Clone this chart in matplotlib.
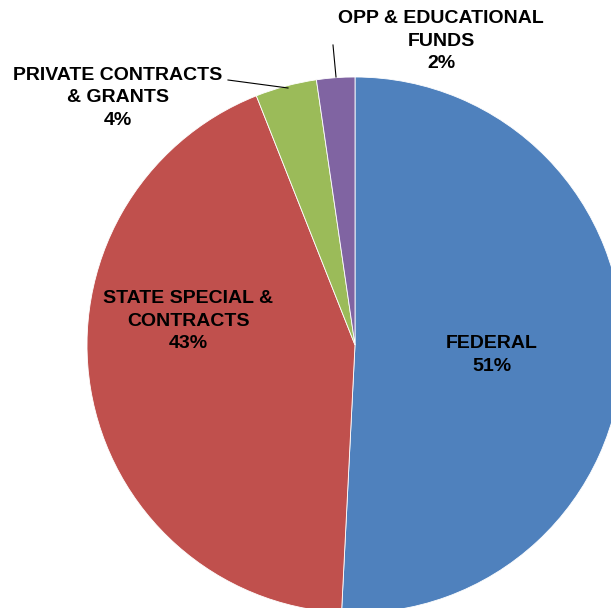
import matplotlib.pyplot as plt

# Datos del grafico
labels = ['FEDERAL', 'STATE SPECIAL &\nCONTRACTS', 'PRIVATE CONTRACTS\n& GRANTS', 'OPP & EDUCATIONAL\nFUNDS']
values = [50.8, 43.2, 3.7, 2.3]
pct_text = ['51%', '43%', '4%', '2%']
colors = ['#4F81BD', '#C0504D', '#9BBB59', '#8064A2']

plt.rcParams['font.family'] = ['Liberation Sans', 'DejaVu Sans']

fig = plt.figure(figsize=(6.11, 6.08), dpi=100)
ax = fig.add_axes([0, 0, 1, 1])

# Centro y radio en pixeles (el pie queda recortado abajo y a la derecha)
cx, cy, r = 355, 608 - 345, 268
wedges, _ = ax.pie(values, colors=colors, startangle=90, counterclock=False,
                   center=(cx, cy), radius=r, frame=True,
                   wedgeprops=dict(edgecolor='white', linewidth=0.6))
ax.set_xlim(0, 611)
ax.set_ylim(0, 608)
ax.set_aspect('auto')
ax.axis('off')

# Etiquetas
pos = [(492, 608 - 355), (188, 608 - 321), (118, 608 - 98), (441, 608 - 41)]
for lab, pct, (x, y) in zip(labels, pct_text, pos):
    ax.text(x, y, lab + '\n' + pct, ha='center', va='center', fontsize=14,
            fontweight='bold', linespacing=1.45, color='black')

# Lineas guia
ax.plot([228, 288], [608 - 80, 608 - 88], color='black', lw=0.8)
ax.plot([333, 336], [608 - 45, 608 - 77], color='black', lw=0.8)

fig.savefig('out.png', dpi=100)
